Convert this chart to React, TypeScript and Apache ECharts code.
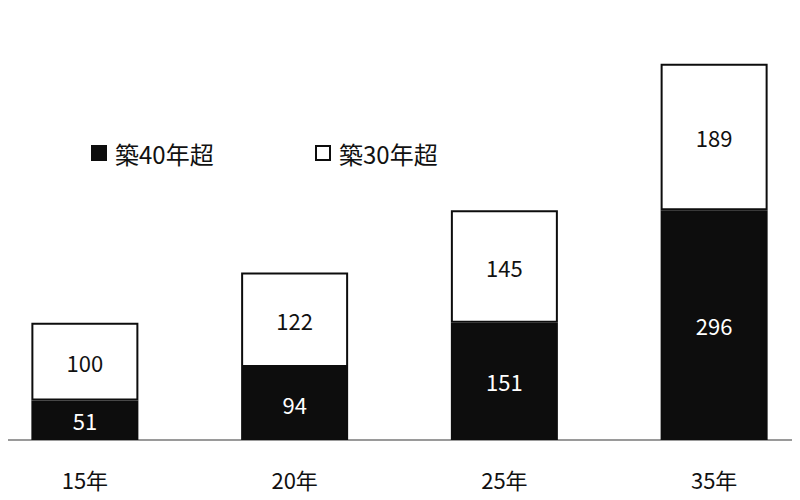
import React, { useRef, useEffect } from 'react';
import * as echarts from 'echarts';

const categories = ['15年', '20年', '25年', '35年'];
const over40 = [51, 94, 151, 296];
const over30 = [100, 122, 145, 189];
const seriesNames = ['築40年超', '築30年超'];

const FONT = '"Noto Sans CJK JP", "Noto Sans", sans-serif';

const App: React.FC = () => {
  const chartRef = useRef<HTMLDivElement>(null);

  useEffect(() => {
    if (!chartRef.current) return;
    const chart = echarts.init(chartRef.current, undefined, { renderer: 'svg' });

    // chart div is shifted 20px left so that the outer bars sit close to the edges
    const legendBase = {
      top: 141,
      padding: 0,
      icon: 'rect',
      itemWidth: 14,
      itemHeight: 14,
      itemGap: 0,
      selectedMode: false,
      textStyle: { fontFamily: FONT, fontSize: 24, color: '#111', padding: [0, 0, 0, 4] },
    };

    const option: echarts.EChartsOption = {
      animation: false,
      textStyle: { fontFamily: FONT },
      legend: [
        { ...legendBase, left: 111, data: [seriesNames[0]] },
        { ...legendBase, left: 335, data: [seriesNames[1]] },
      ],
      grid: { left: 0, right: 0, top: 52, bottom: 60, containLabel: false },
      xAxis: {
        type: 'category',
        data: categories,
        axisLine: { lineStyle: { color: '#9a9a9a', width: 2 } },
        axisTick: { show: false },
        axisLabel: { margin: 28, fontSize: 22, color: '#111', fontFamily: FONT },
      },
      yAxis: {
        type: 'value',
        min: 0,
        max: 500,
        show: false,
        splitLine: { show: false },
      },
      series: [
        {
          name: seriesNames[0],
          type: 'bar',
          stack: 'total',
          barWidth: 107,
          data: over40,
          itemStyle: { color: '#0d0d0d', borderColor: '#0d0d0d', borderWidth: 2 },
          label: { show: true, position: 'inside', color: '#fff', fontSize: 22, fontFamily: FONT },
        },
        {
          name: seriesNames[1],
          type: 'bar',
          stack: 'total',
          barWidth: 107,
          data: over30,
          itemStyle: { color: '#ffffff', borderColor: '#0d0d0d', borderWidth: 2 },
          label: { show: true, position: 'inside', color: '#111', fontSize: 22, fontFamily: FONT },
        },
      ],
    };

    chart.setOption(option);
    return () => chart.dispose();
  }, []);

  return (
    <div style={{ width: 800, height: 500, margin: -8, overflow: 'hidden', position: 'relative' }}>
      <div ref={chartRef} style={{ width: 839, height: 500, marginLeft: -20 }} />
    </div>
  );
};

export default App;
